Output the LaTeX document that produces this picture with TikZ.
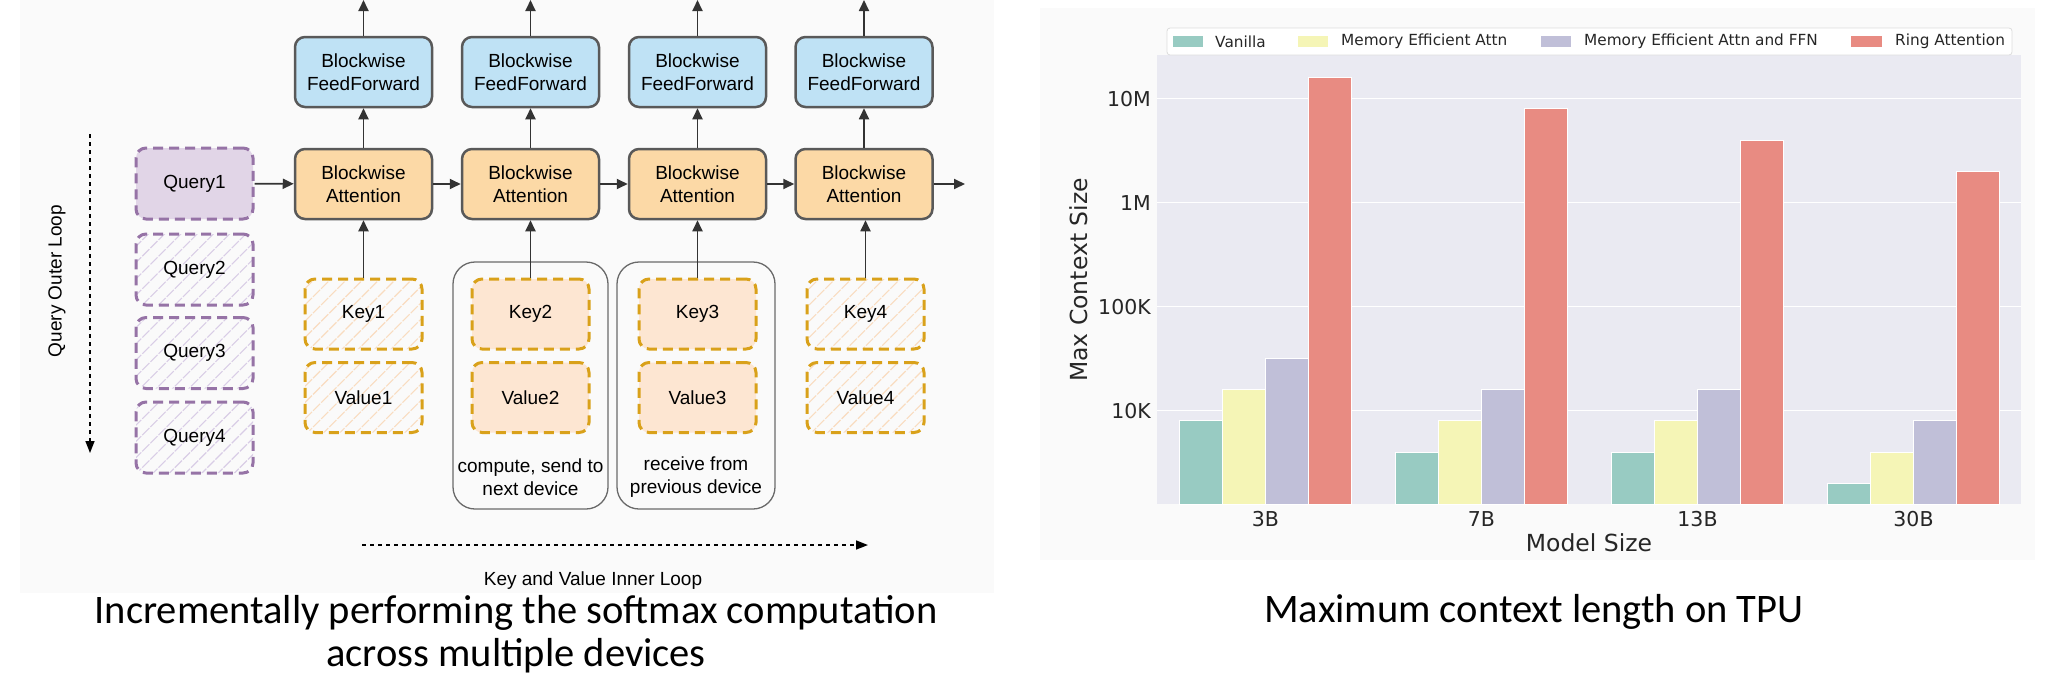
\documentclass[tikz,border=0pt]{standalone}
\usepackage{fontspec}
\setmainfont{Liberation Sans}
\newfontfamily\capfont{Carlito}
\newfontfamily\dvs{DejaVu Sans}
\usetikzlibrary{arrows.meta,patterns.meta}
\definecolor{ffblue}{HTML}{BFE2F5}
\definecolor{attorange}{HTML}{FCD9A6}
\definecolor{boxgray}{HTML}{595959}
\definecolor{arrgray}{HTML}{333333}
\definecolor{qpurple}{HTML}{9673A6}
\definecolor{qfill}{HTML}{E1D5E7}
\definecolor{qhatchc}{HTML}{D9CDE6}
\definecolor{kgold}{HTML}{D9A11A}
\definecolor{kfill}{HTML}{FDE6D2}
\definecolor{khatchc}{HTML}{F9DCC0}
\definecolor{devgray}{HTML}{6A6A6A}
\definecolor{panelbg}{HTML}{FAFAFA}
\definecolor{plotbg}{HTML}{EAEAF2}
\definecolor{cteal}{HTML}{98CBC2}
\definecolor{cyellow}{HTML}{F5F5B6}
\definecolor{clav}{HTML}{C0BFD8}
\definecolor{cred}{HTML}{E88B82}
\definecolor{ctext}{HTML}{262626}
\definecolor{legedge}{HTML}{DDDDDD}
\newcommand{\lbl}{\fontsize{19}{23}\selectfont}
\begin{document}
\begin{tikzpicture}[x=1pt,y=-1pt,
  blk/.style={draw=boxgray, line width=2.5pt, rounded corners=10pt, minimum width=137pt, minimum height=70pt, inner sep=0pt, align=center, font=\lbl},
  ffbox/.style={blk, fill=ffblue},
  attbox/.style={blk, fill=attorange},
  qbox/.style={draw=qpurple, line width=3pt, dash pattern=on 10pt off 6pt, rounded corners=10pt, minimum width=117pt, minimum height=71pt, inner sep=0pt, font=\lbl},
  qsolid/.style={qbox, fill=qfill},
  qhatch/.style={qbox, pattern={Lines[angle=45,distance=11.5pt,line width=1.1pt]}, pattern color=qhatchc},
  kbox/.style={draw=kgold, line width=3pt, dash pattern=on 10pt off 6pt, rounded corners=10pt, minimum width=117pt, minimum height=70pt, inner sep=0pt, font=\lbl},
  ksolid/.style={kbox, fill=kfill},
  khatch/.style={kbox, pattern={Lines[angle=45,distance=11.5pt,line width=1.1pt]}, pattern color=khatchc},
  arr/.style={draw=arrgray, line width=1.8pt, -{Triangle[length=11pt,width=10pt]}},
  devbox/.style={draw=devgray, line width=1.3pt, rounded corners=22pt, inner sep=0pt},
  looparr/.style={draw=black, line width=1.6pt, dash pattern=on 4pt off 4pt, -{Triangle[length=12pt,width=9pt]}},
  devtext/.style={font=\lbl, align=center, inner sep=0pt},
  tick/.style={font=\dvs\fontsize{20.5}{24}\selectfont, text=ctext, inner sep=0pt},
  axlab/.style={font=\dvs\fontsize{23.5}{28}\selectfont, text=ctext, inner sep=0pt},
  legtext/.style={font=\dvs\fontsize{15.3}{18}\selectfont, text=ctext, inner sep=0pt, anchor=west},
  bar/.style={draw=white, line width=0.8pt},
  captext/.style={font=\capfont\fontsize{40.5}{43}\selectfont, align=center, inner sep=0pt}
]
\useasboundingbox (0,0) rectangle (2065,675);
% panel backgrounds
\fill[panelbg] (20,0) rectangle (994,593);
\fill[panelbg] (1040,8) rectangle (2035,560);

% ---------------- left diagram ----------------
\node[devbox, minimum width=155pt, minimum height=247pt] (dev2) at (530.5,385.5) {};
\node[devbox, minimum width=158pt, minimum height=247pt] (dev3) at (696,385.5) {};

\foreach \i/\x in {1/363.5,2/530.5,3/697.5,4/864} {
  \node[ffbox] (ff\i) at (\x,72) {Blockwise\\FeedForward};
  \node[attbox] (att\i) at (\x,184) {Blockwise\\Attention};
  \coordinate (top\i) at (\x,0);
}
\coordinate (attout) at (965,184);

\node[qsolid] (q1) at (194.5,183.5) {Query1};
\node[qhatch] (q2) at (194.5,269.5) {Query2};
\node[qhatch] (q3) at (194.5,353) {Query3};
\node[qhatch] (q4) at (194.5,437.5) {Query4};

\node[khatch] (k1) at (363.5,314) {Key1};
\node[khatch] (v1) at (363.5,397.5) {Value1};
\node[ksolid] (k2) at (530.5,314) {Key2};
\node[ksolid] (v2) at (530.5,397.5) {Value2};
\node[ksolid] (k3) at (697.5,314) {Key3};
\node[ksolid] (v3) at (697.5,397.5) {Value3};
\node[khatch] (k4) at (865.5,314) {Key4};
\node[khatch] (v4) at (865.5,397.5) {Value4};

\node[devtext] (t2) at (530.5,477) {compute, send to\\next device};
\node[devtext] (t3) at (696,477) {receive from\\previous device};

\foreach \i in {1,2,3,4} {
  \draw[arr] (att\i) -- (ff\i);
  \draw[arr] (ff\i) -- (top\i);
}
\draw[arr] (k1.north) -- (att1.south);
\draw[arr] (k2.north) -- (att2.south);
\draw[arr] (k3.north) -- (att3.south);
\draw[arr] (k4.north) -- (att4.south -| k4.north);
\draw[arr] (q1) -- (att1);
\draw[arr] (att1) -- (att2);
\draw[arr] (att2) -- (att3);
\draw[arr] (att3) -- (att4);
\draw[arr] (att4) -- (attout);

\coordinate (qls) at (90,134);
\coordinate (qle) at (90,453);
\draw[looparr] (qls) -- (qle);
\node[font=\lbl, rotate=90, inner sep=0pt] (qlab) at (57,281) {Query Outer Loop};
\coordinate (kls) at (362,545);
\coordinate (kle) at (868,545);
\draw[looparr] (kls) -- (kle);
\node[font=\lbl, inner sep=0pt] (klab) at (593,581) {Key and Value Inner Loop};

\node[captext] (cap1) at (516,634) {Incrementally performing the softmax computation\\across multiple devices};

% ---------------- right chart ----------------
\fill[plotbg] (1157,55) rectangle (2021,504);
\foreach \y in {98.7,202.7,306.7,410.7} {
  \draw[white, line width=1.3pt] (1157,\y) -- (2021,\y);
}
\foreach \c/\a/\b/\d/\e in {1265.5/420.8/389.5/358.2/77.5, 1481.5/452.1/420.8/389.5/108.8, 1697.5/452.1/420.8/389.5/140.1, 1913.5/483.4/452.1/420.8/171.4} {
  \filldraw[bar, fill=cteal] (\c-86,504) rectangle (\c-43,\a);
  \filldraw[bar, fill=cyellow] (\c-43,504) rectangle (\c,\b);
  \filldraw[bar, fill=clav] (\c,504) rectangle (\c+43,\d);
  \filldraw[bar, fill=cred] (\c+43,504) rectangle (\c+86,\e);
}
\node[tick, anchor=east] (y10m) at (1151,98.7) {10M};
\node[tick, anchor=east] (y1m) at (1151,202.7) {1M};
\node[tick, anchor=east] (y100k) at (1151,306.7) {100K};
\node[tick, anchor=east] (y10k) at (1151,410.7) {10K};
\node[tick] (x3) at (1265.5,519) {3B};
\node[tick] (x7) at (1481.5,519) {7B};
\node[tick] (x13) at (1697.5,519) {13B};
\node[tick] (x30) at (1913.5,519) {30B};
\node[axlab] (xlab) at (1589,543) {Model Size};
\node[axlab, rotate=90] (ylab) at (1079,280) {Max Context Size};

% legend
\node[draw=legedge, fill=white, line width=0.8pt, rounded corners=3pt, minimum width=845pt, minimum height=27pt, inner sep=0pt] (legend) at (1589.5,41.5) {};
\fill[cteal] (1173,35.5) rectangle (1203,46.5);
\node[legtext] (l1) at (1215,41.5) {Vanilla};
\fill[cyellow] (1298,35.5) rectangle (1328,46.5);
\node[legtext] (l2) at (1341,41.5) {Memory Efficient Attn};
\fill[clav] (1541,35.5) rectangle (1571,46.5);
\node[legtext] (l3) at (1584,41.5) {Memory Efficient Attn and FFN};
\fill[cred] (1851,35.5) rectangle (1882,46.5);
\node[legtext] (l4) at (1895,41.5) {Ring Attention};

\node[captext] (cap2) at (1534,612) {Maximum context length on TPU};
\end{tikzpicture}
\end{document}
